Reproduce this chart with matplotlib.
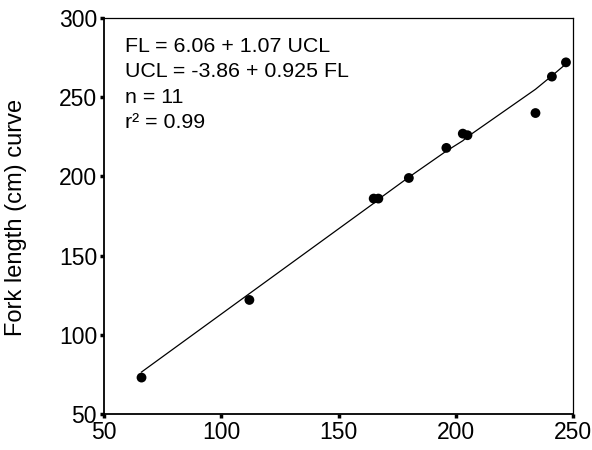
import matplotlib
matplotlib.use("Agg")
import matplotlib.pyplot as plt

plt.rcParams['font.family'] = ['Liberation Sans', 'DejaVu Sans']

ucl = [66, 112, 165, 167, 180, 196, 203, 205, 234, 241, 247]
fl = [73, 122, 186, 186, 199, 218, 227, 226, 240, 263, 272]
curve_x = [66, 112, 165, 167, 180, 196, 203, 205, 234, 241, 247]
curve_y = [76.5, 126, 183, 185.5, 199.5, 216, 222.5, 225, 255, 263.5, 271]
xticks = [50, 100, 150, 200, 250]
yticks = [50, 100, 150, 200, 250, 300]
annot = ["FL = 6.06 + 1.07 UCL", "UCL = -3.86 + 0.925 FL", "n = 11", "r² = 0.99"]

W, H = 592, 450
fig = plt.figure(figsize=(W/100, H/100), dpi=100)
ax = fig.add_axes([104/W, 1-414/H, (573-104)/W, (414-18)/H])

ax.plot(curve_x, curve_y, color='black', lw=0.9)
ax.scatter(ucl, fl, s=50, color='black', zorder=3, edgecolors='none')

ax.set_xlim(50, 250)
ax.set_ylim(50, 300)
ax.set_xticks(xticks)
ax.set_yticks(yticks)
ax.tick_params(direction='out', length=3, width=2.5, labelsize=16.5, pad=2, color='black')
for s in ['left', 'bottom']:
    ax.spines[s].set_linewidth(1.3)
for s in ['top', 'right']:
    ax.spines[s].set_linewidth(0.9)

fig.text(16/W, 1-217.5/H, "Fork length (cm) curve", rotation=90, fontsize=17,
         ha='center', va='center')

baselines = [52, 77, 103, 128]
for t, b in zip(annot, baselines):
    fig.text(125/W, 1-b/H, t, fontsize=15.4, ha='left', va='baseline')

fig.savefig("out.png", dpi=100)
